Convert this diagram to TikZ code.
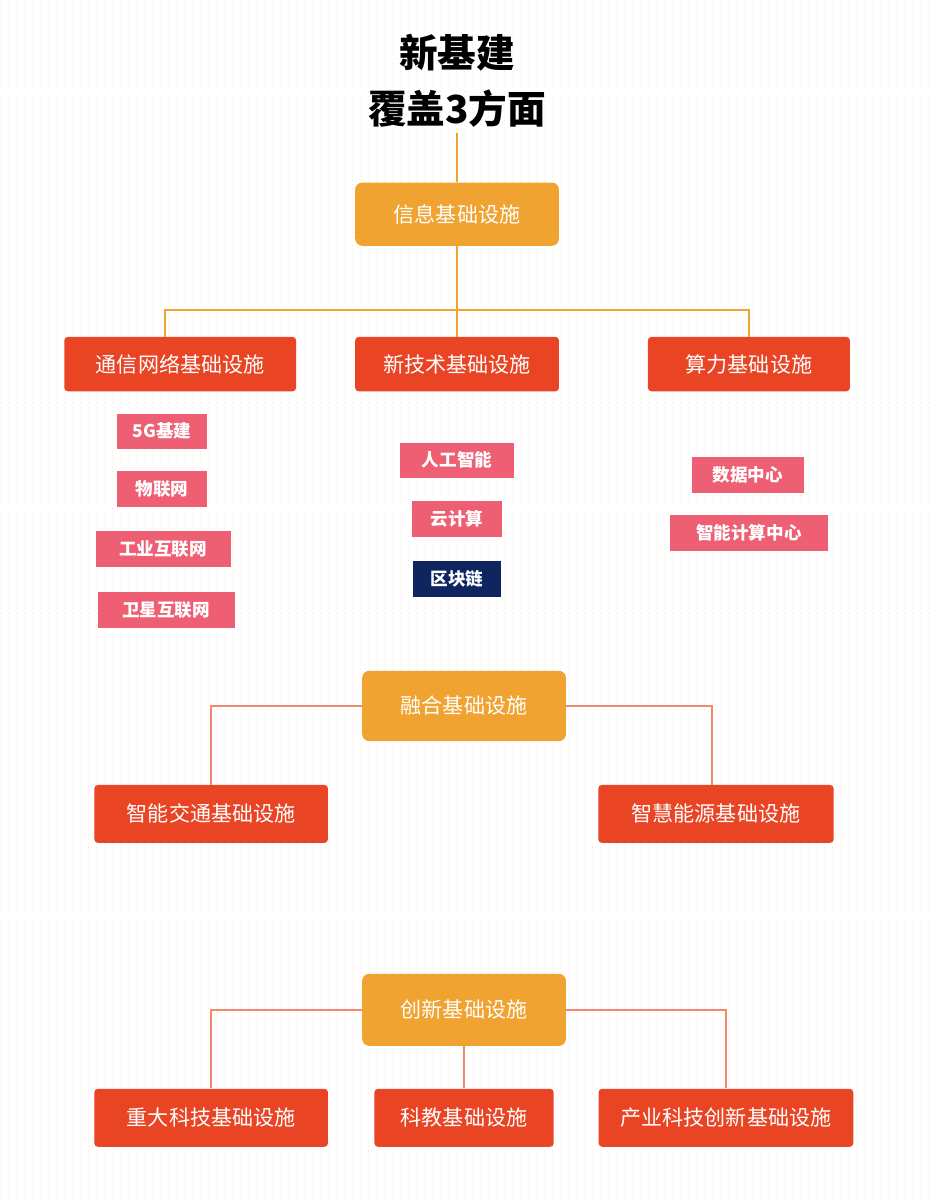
\documentclass[tikz,border=0pt]{standalone}
\usepackage{fontspec}
\setmainfont{Noto Sans CJK SC}
\newfontfamily\titlefont{Noto Sans CJK SC Black}
\usetikzlibrary{positioning}
\definecolor{boxorange}{HTML}{F0A330}
\definecolor{boxred}{HTML}{E94424}
\definecolor{tagpink}{HTML}{EE5F74}
\definecolor{tagnavy}{HTML}{0E2560}
\definecolor{linesalmon}{HTML}{F08A6E}
\tikzset{
  mainbox/.style={fill=boxorange,rounded corners=4pt,text=white,font=\fontsize{12}{14}\selectfont,minimum height=36pt},
  subbox/.style={fill=boxred,rounded corners=2pt,text=white,font=\fontsize{12}{14}\selectfont,minimum height=31pt},
  tagbox/.style={fill=tagpink,text=white,font=\bfseries\fontsize{10}{12}\selectfont,minimum height=20pt},
  link/.style={boxorange,line width=1.2pt},
  link2/.style={linesalmon,line width=1.2pt}
}
\begin{document}
\begin{tikzpicture}[x=0.02cm,y=-0.02cm]
\fill[white] (0,0) rectangle (930,1199);
\draw[orange!18,line width=0.3pt,dotted] (0,0) grid[step=8] (930,1199);
\useasboundingbox (0,0) rectangle (930,1199);
% title
\node[font=\titlefont\fontsize{22}{24}\selectfont] (t1) at (457,52) {新基建};
\node[font=\titlefont\fontsize{22}{24}\selectfont] (t2) at (457,108) {覆盖3方面};
% information
\node[mainbox,minimum width=116pt] (info) at (457,214) {信息基础设施};
\node[subbox,minimum width=132pt] (comm) at (180,364) {通信网络基础设施};
\node[subbox,minimum width=116pt] (tech) at (457,364) {新技术基础设施};
\node[subbox,minimum width=115pt] (comp) at (749,364) {算力基础设施};
\node[tagbox,minimum width=51pt] (g5) at (162,431) {5G基建};
\node[tagbox,minimum width=51pt] (iot) at (162,489) {物联网};
\node[tagbox,minimum width=77pt] (iiot) at (163,549) {工业互联网};
\node[tagbox,minimum width=78pt] (sat) at (166,610) {卫星互联网};
\node[tagbox,minimum width=65pt] (ai) at (457,460) {人工智能};
\node[tagbox,minimum width=51pt] (cloud) at (457,519) {云计算};
\node[tagbox,fill=tagnavy,minimum width=50pt] (chain) at (457,579) {区块链};
\node[tagbox,minimum width=64pt] (dc) at (748,475) {数据中心};
\node[tagbox,minimum width=90pt] (icc) at (749,533) {智能计算中心};
\coordinate (split) at (457,310);
\draw[link] (t2.south) -- (info.north);
\draw[link] (info.south) -- (split);
\draw[link] (split) -| (comm.north -| 165,0);
\draw[link] (split) -- (tech.north);
\draw[link] (split) -| (comp.north);
% fusion
\node[mainbox,minimum width=116pt,minimum height=40pt] (fuse) at (464,706) {融合基础设施};
\node[subbox,minimum width=133pt,minimum height=33pt] (traffic) at (211,814) {智能交通基础设施};
\node[subbox,minimum width=134pt,minimum height=33pt] (energy) at (716,814) {智慧能源基础设施};
\draw[link2] (fuse.west) -| (traffic.north);
\draw[link2] (fuse.east) -| (energy.north -| 712,0);
% innovation
\node[mainbox,minimum width=116pt,minimum height=41pt] (inno) at (464,1010) {创新基础设施};
\node[subbox,minimum width=133pt,minimum height=33pt] (major) at (211,1118) {重大科技基础设施};
\node[subbox,minimum width=102pt,minimum height=33pt] (edu) at (464,1118) {科教基础设施};
\node[subbox,minimum width=145pt,minimum height=33pt] (ind) at (726,1118) {产业科技创新基础设施};
\draw[link2] (inno.west) -| (major.north);
\draw[link2] (inno.south) -- (edu.north);
\draw[link2] (inno.east) -| (ind.north);
\end{tikzpicture}
\end{document}
